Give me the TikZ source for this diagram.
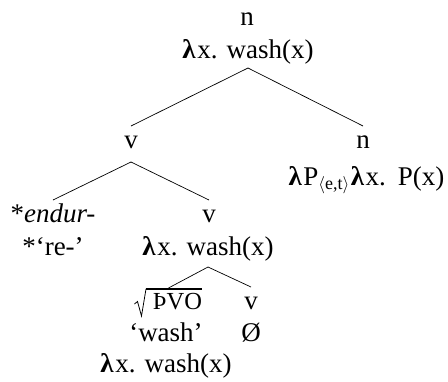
\documentclass[tikz,border=0pt]{standalone}
\usepackage{fontspec}
\setmainfont{Liberation Serif}
\newcommand{\lam}{\textbf{λ}\hspace{1.5pt}}
\begin{document}
\begin{tikzpicture}[x=1pt,y=-1pt,
  lab/.style={anchor=base, inner sep=1pt, font=\fontsize{27}{30}\selectfont},
  branch/.style={line width=0.7pt}]
\useasboundingbox (0,0) rectangle (448,381);
% nodes
\node[lab] (rootcat) at (247,25) {n};
\node[lab] (rootsem) at (248,58) {\lam x. wash(x)};
\node[lab] (vL) at (131,148) {v};
\node[lab] (nR) at (363,148) {n};
\node[lab] (nRsem) at (366.5,185) {\lam P\raisebox{-0.4ex}{\fontsize{18}{18}\selectfont$\langle$e,t$\rangle$}\hspace{1.5pt}\lam x.\hspace{3pt} P(x)};
\node[lab] (endur) at (53,222) {*\textit{endur-}};
\node[lab] (re) at (53,255) {*`re-'};
\node[lab] (vM) at (209,222) {v};
\node[lab] (vMsem) at (208,255) {\lam x. wash(x)};
\node[lab] (pvo) at (168.5,309) {\makebox[67pt][r]{\fontsize{24.5}{25}\selectfont ÞVO}};
\node[lab] (vS) at (251,309) {v};
\node[lab] (wash) at (166,341) {`wash'};
\node[lab] (null) at (251,341) {Ø};
\node[lab] (washsem) at (166,372) {\lam x. wash(x)};
% radical sign
\draw[line width=0.8pt, line join=miter] (134.5,304) -- (137.5,301.5) -- (141.5,316) -- (146,289);
\draw[line width=1.3pt] (145.6,289) -- (202,289);
% connectors
\draw[branch] ([yshift=-10pt]rootsem.base) -- ([yshift=22pt]vL.base);
\draw[branch] ([yshift=-10pt]rootsem.base) -- ([yshift=22pt]nR.base);
\draw[branch] ([yshift=-14pt]vL.base) -- ([yshift=22pt]endur.base);
\draw[branch] ([yshift=-14pt]vL.base) -- ([yshift=22pt]vM.base);
\draw[branch] ([yshift=-12pt]vMsem.base) -- ([yshift=21pt]pvo.base);
\draw[branch] ([yshift=-12pt]vMsem.base) -- ([yshift=22pt]vS.base);
\end{tikzpicture}
\end{document}
